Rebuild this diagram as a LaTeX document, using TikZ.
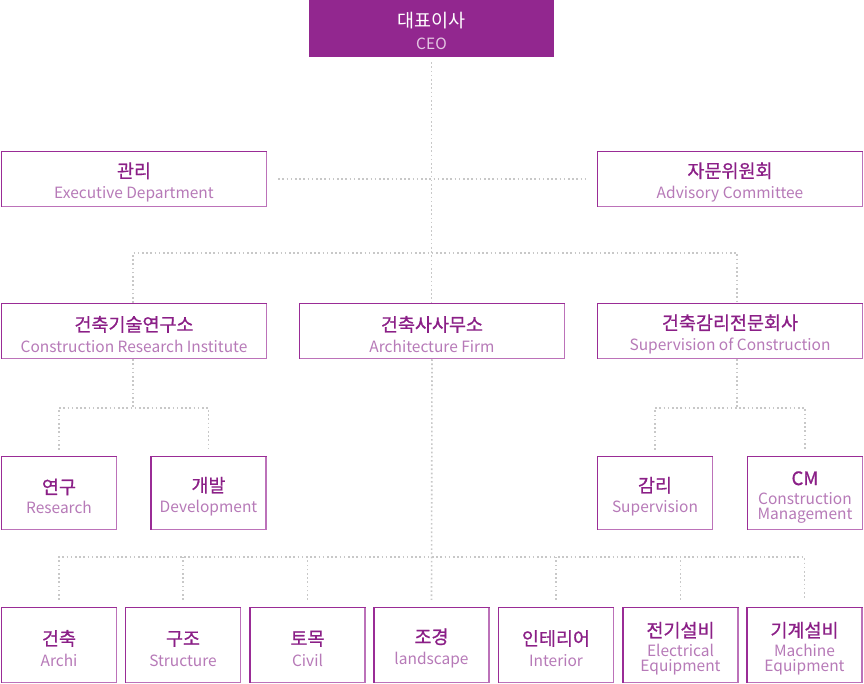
\documentclass[tikz,border=0pt]{standalone}
\usepackage{fontspec}
\setmainfont{Noto Sans CJK KR}
\newfontfamily\krfont{Noto Sans CJK KR}[FakeBold=0.8]
\usepackage{xcolor}
\usetikzlibrary{calc}

\definecolor{ceofill}{HTML}{92278F}
\definecolor{krtext}{HTML}{8B1F87}
\definecolor{entext}{HTML}{B77AB8}
\definecolor{ceoen}{HTML}{E3C6E2}
\definecolor{boxlight}{HTML}{BC72B9}
\definecolor{boxdark}{HTML}{9A2C96}
\definecolor{linkgray}{HTML}{C8C8C8}

\newcommand{\kr}[1]{{\krfont\fontsize{18.5}{21}\selectfont\color{krtext}\rule{0pt}{22pt}#1}}
\newcommand{\en}[1]{{\color{entext}#1}}

\tikzset{
  orgbox/.style={draw=boxlight, line width=1.5pt, fill=white, rectangle, inner sep=0pt, align=center,
    font=\fontsize{15.5}{21}\selectfont},
  widebox/.style={orgbox, minimum width=265pt, minimum height=55pt},
  smallbox/.style={orgbox, minimum width=115pt, minimum height=73pt},
  fieldbox/.style={smallbox, minimum height=75pt},
  edge/.style={draw=boxdark, line width=1.5pt, line cap=rect},
  link/.style={draw=linkgray, line width=1.6pt, dash pattern=on 1.6pt off 2.6pt}
}

\begin{document}
\begin{tikzpicture}[x=1pt,y=1pt]
\useasboundingbox[fill=white] (0,0) rectangle (864,-684);
% Drawing boxes
% Top: CEO
\node[rectangle, fill=ceofill, minimum width=245pt, minimum height=57pt, inner sep=0pt, align=center,
  font=\fontsize{15.5}{22}\selectfont] (ceo) at (431.5,-28.5)
  {{\fontsize{18.5}{21}\selectfont\color{white}\rule{0pt}{20pt}대표이사}\\{\color{ceoen}CEO}};
% Staff row
\node[widebox] (exec) at (134,-179) {\kr{관리}\\\en{Executive Department}};
\node[widebox] (adv) at (730,-179) {\kr{자문위원회}\\\en{Advisory Committee}};
% Division row
\node[widebox] (lab) at (134,-331) {\kr{건축기술연구소}\\\en{Construction Research Institute}};
\node[widebox] (firm) at (432,-331) {\kr{건축사사무소}\\\en{Architecture Firm}};
\node[widebox] (soc) at (730,-331) {\kr{건축감리전문회사}\\\en{Supervision of Construction}};
% Team row
\node[smallbox] (res) at (59,-493) {\kr{연구}\\[-1pt]\en{Research}};
\node[smallbox] (dev) at (208.5,-493) {\kr{개발}\\[-1pt]\en{Development}};
\node[smallbox] (sup) at (655,-493) {\kr{감리}\\[-1pt]\en{Supervision}};
\node[smallbox] (cm) at (805,-493) {\kr{CM}\\[-2pt]\en{Construction}\\[-6pt]\en{Management}};
% Field row
\node[fieldbox] (arch) at (59,-645) {\kr{건축}\\\en{Archi}};
\node[fieldbox] (struc) at (183,-645) {\kr{구조}\\\en{Structure}};
\node[fieldbox] (civil) at (307.5,-645) {\kr{토목}\\\en{Civil}};
\node[fieldbox] (land) at (431.5,-645) {\kr{조경}\\\en{landscape}};
\node[fieldbox] (inter) at (556,-645) {\kr{인테리어}\\\en{Interior}};
\node[fieldbox] (elec) at (680.5,-645) {\kr{전기설비}\\[-2pt]\en{Electrical}\\[-6pt]\en{Equipment}};
\node[fieldbox] (mech) at (804.5,-645) {\kr{기계설비}\\[-2pt]\en{Machine}\\[-6pt]\en{Equipment}};
% Darker left and top edges
\foreach \n in {exec,adv,lab,firm,soc,res,dev,sup,cm,arch,struc,civil,land,inter,elec,mech}
  \draw[edge] ([shift={(0.75pt,0.75pt)}]\n.south west) -- ([shift={(0.75pt,-0.75pt)}]\n.north west)
    -- ([shift={(-0.75pt,-0.75pt)}]\n.north east);
% Done with boxes; drawing links
\coordinate (topbus) at (432,-253);
\coordinate (labbus) at (133,-408);
\coordinate (socbus) at (737,-408);
\coordinate (fieldbus) at (432,-557);
% CEO down to the firm
\draw[link] ([yshift=-5pt]ceo.south) -- (ceo.south |- firm.north);
% Staff line
\draw[link] ([xshift=11pt]exec.east) -- ([xshift=-10pt]adv.west);
% Division bus
\draw[link] ([xshift=-1pt]lab.north) |- (topbus) -| ([xshift=7pt]soc.north);
% Institute teams
\draw[link] ([xshift=-1pt]lab.south) -- (labbus);
\draw[link] ([yshift=6pt]res.north) |- (labbus) -| ([yshift=6pt]dev.north);
% Supervision teams
\draw[link] ([xshift=7pt]soc.south) -- (socbus);
\draw[link] ([yshift=6pt]sup.north) |- (socbus) -| ([yshift=6pt]cm.north);
% Firm fields
\draw[link] (firm.south) -- ([yshift=7pt]land.north);
\draw[link] ([yshift=7pt]arch.north) |- (fieldbus) -| ([yshift=7pt]mech.north);
\foreach \n in {struc,civil,inter,elec}
  \draw[link] ([yshift=7pt]\n.north) -- (\n.north |- fieldbus);
% Done with links
\end{tikzpicture}
\end{document}
